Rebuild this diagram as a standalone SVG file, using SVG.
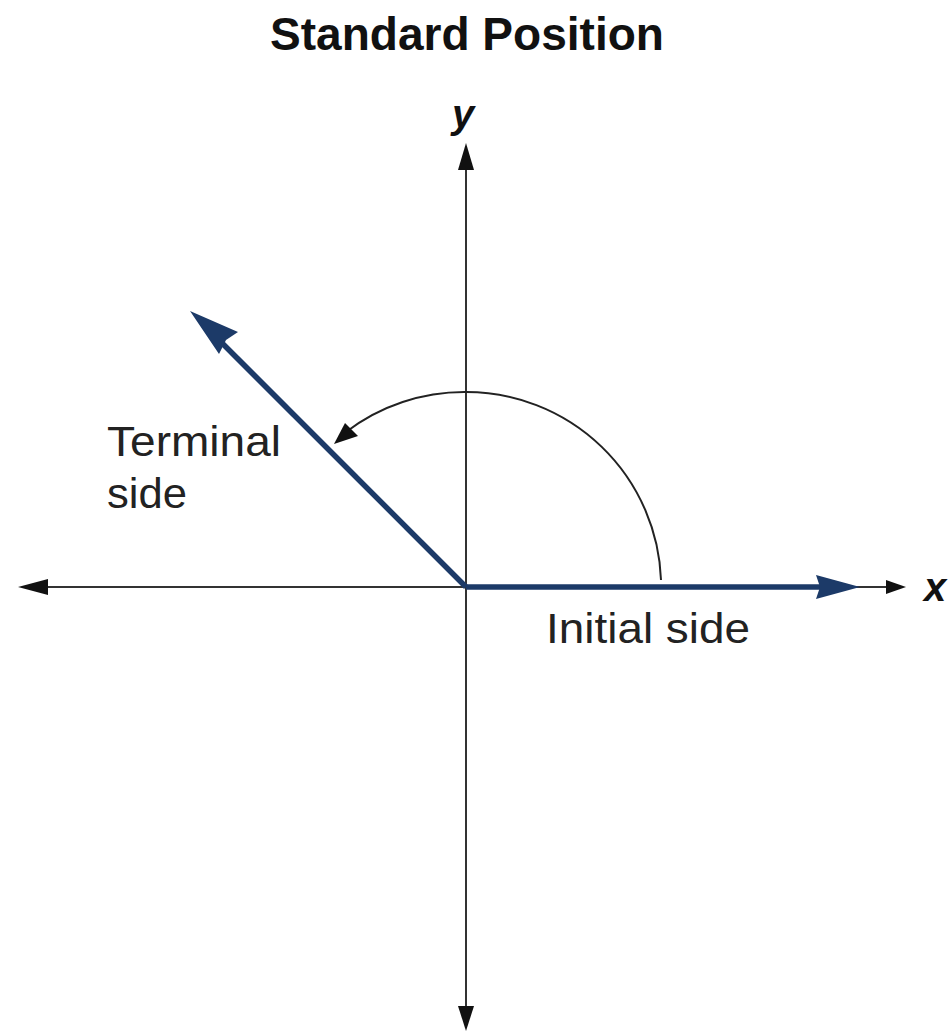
<svg xmlns="http://www.w3.org/2000/svg" width="949" height="1032" viewBox="0 0 949 1032">
<style>
.axis{stroke:#333;stroke-width:2;fill:none}
.side{stroke:#1c3a68;stroke-width:5.5;fill:none}
.lbl{font-family:"Liberation Sans",Arial,sans-serif;font-size:43px;fill:#222}
.var{font-family:"Liberation Sans",Arial,sans-serif;font-size:40px;font-style:italic;font-weight:bold;fill:#111}
</style>
<rect width="949" height="1032" fill="#fff"/>
<g id="title"><text x="467" y="50" text-anchor="middle" textLength="394" lengthAdjust="spacingAndGlyphs" style="font-family:'Liberation Sans',Arial,sans-serif;font-size:46px;font-weight:bold;fill:#111">Standard Position</text></g>
<g id="connectors">
<line class="axis" x1="48" y1="587" x2="888" y2="587"/>
<line class="axis" x1="466" y1="168" x2="466" y2="1008"/>
<polygon points="18,587 48,579 48,595" fill="#111"/>
<polygon points="906,587 886,580 886,594" fill="#111"/>
<polygon points="466,143 458,170 474,170" fill="#111"/>
<polygon points="466,1031 458,1006 474,1006" fill="#111"/>
<line class="side" x1="466" y1="587" x2="822" y2="587"/>
<polygon points="860,587 816,575 820,587 816,599" fill="#1c3a68"/>
<line class="side" x1="466" y1="587" x2="215" y2="336"/>
<polygon points="190,311 238,332 226,340 219,354" fill="#1c3a68"/>
<path d="M661,580 A195,195 0 0 0 466,392 A195,195 0 0 0 346,432" stroke="#222" stroke-width="2" fill="none"/>
<polygon points="334,444 345,423 358,436" fill="#111"/>
</g>
<g id="terminal-label"><text class="lbl" x="107" y="456" textLength="174" lengthAdjust="spacingAndGlyphs">Terminal</text><text class="lbl" x="107" y="508" textLength="80" lengthAdjust="spacingAndGlyphs">side</text></g>
<g id="initial-label"><text class="lbl" x="546" y="643" textLength="204" lengthAdjust="spacingAndGlyphs">Initial side</text></g>
<g id="y-label"><text class="var" x="463" y="128" text-anchor="middle">y</text></g>
<g id="x-label"><text class="var" x="935" y="601" text-anchor="middle">x</text></g>
</svg>
